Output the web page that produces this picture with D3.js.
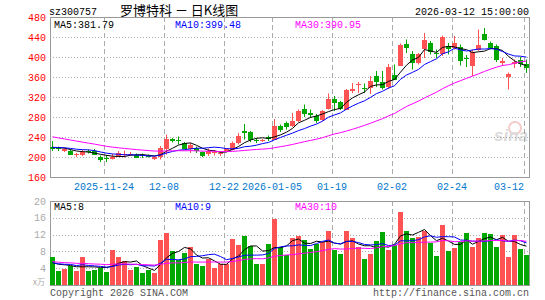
<!DOCTYPE html>
<html>
<head>
<meta charset="utf-8">
<script src="https://cdn.jsdelivr.net/npm/d3@7"></script>
<style>
body { margin: 0; background: #fff; }
text { font-family: "Liberation Mono", "DejaVu Sans Mono", monospace; font-size: 10px; }
</style>
</head>
<body>
<script>
// trading days shown in the window
const dates = [
  "11-11","11-12","11-13","11-14","11-17","11-18","11-19","11-20","11-21",
  "11-24","11-25","11-26","11-27","11-28",
  "12-01","12-02","12-03","12-04","12-05",
  "12-08","12-09","12-10","12-11","12-12",
  "12-15","12-16","12-17","12-18","12-19",
  "12-22","12-23","12-24","12-25","12-26",
  "12-29","12-30","12-31",
  "01-05","01-06","01-07","01-08","01-09",
  "01-12","01-13","01-14","01-15","01-16",
  "01-19","01-20","01-21","01-22","01-23",
  "01-26","01-27","01-28","01-29","01-30",
  "02-02","02-03","02-04","02-05","02-06",
  "02-09","02-10","02-11","02-12","02-13",
  "02-24","02-25","02-26","02-27",
  "03-02","03-03","03-04","03-05","03-06",
  "03-09","03-10","03-11","03-12"
];

const open = [220,218,213,213,204,204,213,213,200,198, 198,202,204,205,205,204,203,197,200,216,
  236,234,228,216,218,210,207,208,206,213, 215,228,252,250,234,232,240,236,262,268,
  262,272,297,288,283,274,297,316,310,295, 332,345,338,338,362,350,340,365,384,427,
  407,388,415,428,408,406,422,418,420,399, 383,415,447,428,422,389,362,386,395,386];
const high = [232,221,219,215,208,215,215,216,203,204, 206,212,213,210,207,207,205,202,222,245,
  238,241,230,228,221,211,217,214,212,218, 231,248,266,252,238,236,243,276,265,271,
  288,295,305,295,286,294,327,322,312,336, 348,350,347,362,372,372,386,385,427,435,
  412,408,448,432,415,443,428,442,425,404, 415,455,458,431,425,398,369,395,400,395];
const low = [212,212,210,204,200,202,207,205,190,190, 195,200,199,202,199,198,199,194,195,205,
  229,225,215,208,208,200,202,203,202,212, 213,225,235,230,228,230,232,234,250,255,
  260,270,280,278,268,272,295,292,294,294, 328,328,328,326,340,335,336,355,382,408,
  375,385,398,405,398,402,405,415,383,380, 362,412,433,415,390,382,335,378,380,368];
const close = [216,216,216,206,206,210,211,206,194,196, 201,208,206,207,200,203,201,200,218,236,
  232,233,216,224,212,203,213,210,208,216, 229,242,248,235,233,234,236,263,255,260,
  272,292,288,284,274,292,316,308,296,335, 336,347,336,352,350,338,380,355,425,420,
  390,406,434,410,406,440,417,428,392,397, 410,425,435,418,395,392,367,390,387,378];
// volume, 10k lots
const volume = [6.7,3.3,3.8,4.6,3.3,6.7,3.3,3.6,4.1,3.1, 8.3,6.7,5.6,3.6,4.4,2.9,3.6,2.9,10.7,12.3,
  8.1,5.9,7.7,9.0,5.0,4.5,6.2,4.0,5.0,4.9, 11.0,9.5,11.7,9.3,5.0,5.0,9.8,15.6,9.0,7.1,
  11.3,11.7,10.7,8.6,9.8,10.3,12.9,8.3,7.4,12.9, 11.1,9.1,6.2,7.4,10.5,12.7,8.3,9.5,17.5,12.9,
  11.3,11.5,12.9,10.1,6.9,14.3,8.1,8.9,10.2,12.3, 9.1,11.3,12.3,12.1,9.1,11.9,6.7,11.9,8.6,7.1];

// sessions before the window, only feeding the moving averages (estimated from the MA lines)
const earlierClose = [282,276,272,268,275,270,265,262,260, 252,248,244,240,236,232,230,228,225,222,228,
  224,220,218,222,219,216,220,221,220];
const earlierVolume = [7.5,6.8,6.2,7.0,6.5,5.8,6.0,5.5,6.2, 5.0,5.4,4.8,5.2,6.0,4.6,5.1,4.9,5.5,4.7,5.3,
  5.8,4.9,5.0,6.1,4.6,5.2,4.4,5.5,4.8];

const tickDates = ["11-24","12-08","12-22","01-05","01-19","02-02","02-24","03-12"];
const tickLabels = ["2025-11-24","12-08","12-22","2026-01-05","01-19","02-02","02-24","03-12"];
const priceTicks = [160,200,240,280,320,360,400,440,480];
const volTicks = [4,8,12,16,20];

const maLabels = ["MA5:381.79","MA10:399.48","MA30:390.95"];
const volMaLabels = ["MA5:8","MA10:9","MA30:10"];

const RED = "#ff5252", GREEN = "#00a800", GRID = "#aaaaaa";
const maColors = ["#000000","#0000ff","#ff00ff"];

const svg = d3.select("body").append("svg")
  .attr("width", 545)
  .attr("height", 300);

const x = d3.scaleBand().domain(dates).range([50, 530]);
const y = d3.scaleLinear().domain([160, 480]).range([177, 17]);
const yv = d3.scaleLinear().domain([0, 20]).range([285, 201]);

function movingAvg(values, earlier, n) {
  const all = earlier.concat(values);
  return values.map((v, i) => {
    const end = i + earlier.length + 1;
    return d3.mean(all.slice(end - n, end));
  });
}

// grid + frames
function panel(top, bottom, hTicks, scale) {
  svg.append("g").selectAll("line")
    .data(hTicks)
    .join("line")
    .attr("x1", 50).attr("x2", 530)
    .attr("y1", d => Math.round(scale(d)) + 0.5)
    .attr("y2", d => Math.round(scale(d)) + 0.5)
    .attr("stroke", GRID)
    .attr("stroke-dasharray", "1,2");
  svg.append("g").selectAll("line")
    .data(tickDates)
    .join("line")
    .attr("x1", d => x(d) + 0.5).attr("x2", d => x(d) + 0.5)
    .attr("y1", top).attr("y2", bottom)
    .attr("stroke", GRID)
    .attr("stroke-dasharray", "5,3");
  svg.append("rect")
    .attr("x", 50.5).attr("y", top + 0.5)
    .attr("width", 479).attr("height", bottom - top)
    .attr("fill", "none")
    .attr("stroke", "#999");
}
panel(17, 177, [200,240,280,320,360,400,440], y);
panel(201, 285, [4,8,12,16], yv);

// watermark
const wm = svg.append("g").attr("opacity", 0.35);
wm.append("circle").attr("cx", 515).attr("cy", 128).attr("r", 6)
  .attr("fill", "none").attr("stroke", "#e07070").attr("stroke-width", 2);
wm.append("text").attr("x", 528).attr("y", 141)
  .attr("text-anchor", "end")
  .style("font-family", "Arial, 'Liberation Sans', sans-serif")
  .style("font-size", "17px").style("font-style", "italic").style("font-weight", "bold")
  .attr("fill", "#999").text("sina");

// candles
const idx = d3.range(dates.length);
const candles = svg.append("g").selectAll("g")
  .data(idx)
  .join("g")
  .attr("fill", i => close[i] >= open[i] ? RED : GREEN)
  .attr("stroke", i => close[i] >= open[i] ? RED : GREEN);

candles.append("line")
  .attr("x1", i => x(dates[i]) + 2.5).attr("x2", i => x(dates[i]) + 2.5)
  .attr("y1", i => y(high[i])).attr("y2", i => y(low[i]))
  .attr("stroke-width", 1);

candles.append("rect")
  .attr("x", i => x(dates[i]))
  .attr("width", 5)
  .attr("y", i => Math.round(y(Math.max(open[i], close[i]))))
  .attr("height", i => Math.max(1, Math.round(Math.abs(y(open[i]) - y(close[i])))))
  .attr("stroke", "none");

// volume bars
svg.append("g").selectAll("rect")
  .data(idx)
  .join("rect")
  .attr("x", i => x(dates[i]))
  .attr("width", 5)
  .attr("y", i => Math.round(yv(volume[i])))
  .attr("height", i => 285 - Math.round(yv(volume[i])))
  .attr("fill", i => close[i] >= open[i] ? RED : GREEN);

// moving averages
[5, 10, 30].forEach((n, k) => {
  const ma = movingAvg(close, earlierClose, n);
  svg.append("path")
    .attr("d", d3.line().x((d, i) => x(dates[i]) + 2.5).y(d => y(d))(ma))
    .attr("fill", "none")
    .attr("stroke", maColors[k])
    .attr("stroke-width", 1);
  const vma = movingAvg(volume, earlierVolume, n);
  svg.append("path")
    .attr("d", d3.line().x((d, i) => x(dates[i]) + 2.5).y(d => yv(d))(vma))
    .attr("fill", "none")
    .attr("stroke", maColors[k])
    .attr("stroke-width", 1);
});

// axis labels
svg.append("g").selectAll("text")
  .data(priceTicks)
  .join("text")
  .attr("x", 46).attr("y", d => y(d) + 4)
  .attr("text-anchor", "end")
  .attr("fill", "#ff0000")
  .text(d => d);

svg.append("g").selectAll("text")
  .data(volTicks)
  .join("text")
  .attr("x", 46).attr("y", d => yv(d) + 3.5)
  .attr("text-anchor", "end")
  .attr("fill", "#aaaaaa")
  .text(d => d);
svg.append("text").attr("x", 45).attr("y", 285)
  .attr("text-anchor", "end").attr("fill", "#aaaaaa")
  .style("font-family", "'Noto Sans CJK SC', sans-serif").style("font-size", "8px")
  .text("x万");

const lastTick = tickDates[tickDates.length - 1];
svg.append("g").selectAll("text")
  .data(tickDates)
  .join("text")
  .attr("x", d => x(d))
  .attr("y", 190)
  .attr("text-anchor", d => d === lastTick ? "end" : "middle")
  .attr("fill", "#0077cc")
  .text((d, i) => tickLabels[i]);

// legends
const legendX = [54, 175, 295];
svg.append("g").selectAll("text")
  .data(maLabels)
  .join("text")
  .attr("x", (d, i) => legendX[i]).attr("y", 28)
  .attr("fill", (d, i) => maColors[i])
  .text(d => d);
svg.append("g").selectAll("text")
  .data(volMaLabels)
  .join("text")
  .attr("x", (d, i) => legendX[i]).attr("y", 210)
  .attr("fill", (d, i) => maColors[i])
  .text(d => d);

// header
svg.append("text").attr("x", 49).attr("y", 15).text("sz300757");
svg.append("text").attr("x", 120).attr("y", 15)
  .style("font-family", "'Noto Sans CJK SC', sans-serif").style("font-size", "13px")
  .style("white-space", "pre")
  .text("罗博特科 － 日K线图");
svg.append("text").attr("x", 529).attr("y", 15).attr("text-anchor", "end")
  .text("2026-03-12 15:00:00");

// footer
svg.append("text").attr("x", 50).attr("y", 296).attr("fill", "#555").text("Copyright 2026 SINA.COM");
svg.append("text").attr("x", 529).attr("y", 296).attr("text-anchor", "end")
  .attr("fill", "#555").text("http://finance.sina.com.cn");
</script>
</body>
</html>
